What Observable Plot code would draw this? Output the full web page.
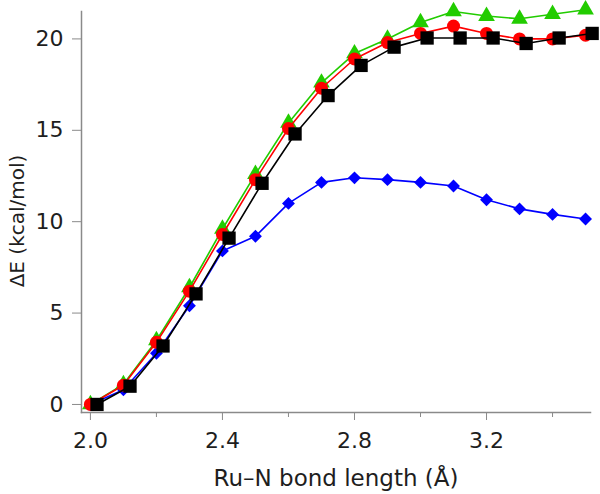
<!DOCTYPE html>
<html>
<head>
<meta charset="utf-8">
<script src="https://cdn.jsdelivr.net/npm/d3@7"></script>
<script src="https://cdn.jsdelivr.net/npm/@observablehq/plot@0.6"></script>
<style>
  html, body { margin: 0; padding: 0; background: #fff; }
  #chart svg { display: block; }
  #chart svg g[aria-label="x-axis tick label"] text,
  #chart svg g[aria-label="y-axis tick label"] text { font-size: 22px; }
  #chart svg g.ylab text { font-size: 20px; }
  #chart svg g.xlab text { font-size: 23px; }
</style>
</head>
<body>
<div id="chart"></div>
<script>
// Bond lengths (Å)
const bondLength = [2.0, 2.1, 2.2, 2.3, 2.4, 2.5, 2.6, 2.7, 2.8, 2.9, 3.0, 3.1, 3.2, 3.3, 3.4, 3.5];
const bondLengthBlack = [2.02, 2.12, 2.22, 2.32, 2.42, 2.52, 2.62, 2.72, 2.82, 2.92, 3.02, 3.12, 3.22, 3.32, 3.42, 3.52];

// ΔE (kcal/mol) per series
const greenValues = [0, 1.1, 3.5, 6.4, 9.6, 12.6, 15.4, 17.6, 19.2, 20.0, 20.9, 21.5, 21.25, 21.1, 21.35, 21.6];
const redValues   = [0, 1.05, 3.4, 6.2, 9.3, 12.3, 15.1, 17.3, 18.9, 19.8, 20.3, 20.7, 20.3, 20.0, 20.0, 20.2];
const blackValues = [0, 1.0, 3.2, 6.05, 9.1, 12.1, 14.8, 16.9, 18.55, 19.55, 20.05, 20.05, 20.05, 19.75, 20.05, 20.3];
const blueValues  = [0, 0.8, 2.8, 5.4, 8.4, 9.2, 11.0, 12.15, 12.4, 12.3, 12.15, 11.95, 11.2, 10.7, 10.4, 10.15];

const majorTicksX = [2.0, 2.4, 2.8, 3.2];
const minorTicksX = [2.2, 2.6, 3.0, 3.4];
const ticksY = [0, 5, 10, 15, 20];

const xLabel = "Ru–N bond length (Å)";
const yLabel = "ΔE (kcal/mol)";

const toRows = (xs, ys) => xs.map((x, i) => ({x, y: ys[i]}));
const blue = toRows(bondLength, blueValues);
const green = toRows(bondLength, greenValues);
const red = toRows(bondLength, redValues);
const black = toRows(bondLengthBlack, blackValues);

const font = "'DejaVu Sans', Verdana, sans-serif";
const axisColor = "#8a8a8a";
const textColor = "#1e1e1e";

const chart = Plot.plot({
  width: 600,
  height: 494,
  marginLeft: 81,
  marginRight: 10,
  marginTop: 11,
  marginBottom: 82,
  style: {fontFamily: font, fontSize: "20px", color: textColor, background: "#fff"},
  x: {domain: [1.973, 3.515]},
  y: {domain: [-0.44, 21.5]},
  marks: [
    Plot.frame({anchor: "left", stroke: axisColor, strokeWidth: 1.5}),
    Plot.frame({anchor: "bottom", stroke: axisColor, strokeWidth: 1.5}),
    Plot.axisX({ticks: majorTicksX, tickSize: 8, tickPadding: 12, tickFormat: d3.format(".1f"), stroke: axisColor, fill: textColor, label: null, fontSize: 22}),
    Plot.axisX({ticks: minorTicksX, tickSize: 5, tickFormat: () => "", stroke: axisColor, label: null}),
    Plot.axisY({ticks: ticksY, tickSize: 9, tickPadding: 9, stroke: axisColor, fill: textColor, label: null, fontSize: 22}),
    Plot.text([xLabel], {frameAnchor: "bottom", textAnchor: "middle", dy: 73, fontSize: 23, fill: textColor, className: "xlab"}),
    Plot.text([yLabel], {frameAnchor: "left", textAnchor: "middle", lineAnchor: "middle", rotate: -90, dx: -64, dy: 9, fontSize: 20, fill: textColor, className: "ylab"}),

    Plot.line(blue, {x: "x", y: "y", stroke: "#0000ff", strokeWidth: 1.6}),
    Plot.dot(blue, {x: "x", y: "y", symbol: "diamond2", r: 5.8, fill: "#0000ff", stroke: "none"}),

    Plot.line(green, {x: "x", y: "y", stroke: "#22cc00", strokeWidth: 1.6}),
    Plot.dot(green, {x: "x", y: "y", symbol: "triangle", r: 6.2, fill: "#22cc00", stroke: "none"}),

    Plot.line(red, {x: "x", y: "y", stroke: "#ff0000", strokeWidth: 1.6}),
    Plot.dot(red, {x: "x", y: "y", symbol: "circle", r: 6.5, fill: "#ff0000", stroke: "none"}),

    Plot.line(black, {x: "x", y: "y", stroke: "#000000", strokeWidth: 1.6}),
    Plot.dot(black, {x: "x", y: "y", symbol: "square", r: 7.5, fill: "#000000", stroke: "none"})
  ]
});
document.getElementById("chart").appendChild(chart);
</script>
</body>
</html>
